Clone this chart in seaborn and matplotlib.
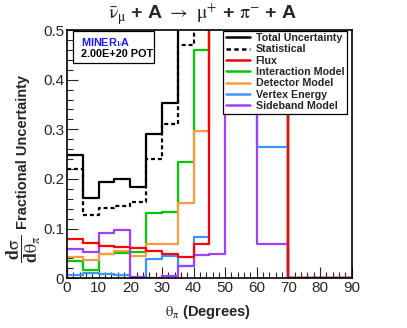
"""
Fractional uncertainty on d(sigma)/d(theta_pi), MINERvA style.
"""

import matplotlib

matplotlib.use("Agg")
import matplotlib.pyplot as plt
import pandas as pd
import seaborn as sns
from matplotlib.lines import Line2D
from matplotlib.patches import Rectangle
from matplotlib.ticker import MultipleLocator

# bin edges in theta_pi (degrees)
bin_edges = [0, 5, 10, 15, 20, 25, 30, 35, 40, 45, 50, 60, 70, 90]

# fractional uncertainty per bin (values above 0.5 run off the plot)
total_unc = [0.249, 0.161, 0.194, 0.200, 0.183, 0.290, 0.353, 0.80, 1.10, 1.40, 1.60, 1.30, 0.0]
stat_unc = [0.220, 0.128, 0.142, 0.146, 0.154, 0.240, 0.311, 0.470, 0.70, 0.90, 1.10, 0.90, 0.0]
flux_unc = [0.079, 0.071, 0.065, 0.063, 0.062, 0.054, 0.049, 0.042, 0.070, 0.90, 1.00, 0.80, 0.0]
interaction_unc = [0.034, 0.017, 0.048, 0.050, 0.052, 0.131, 0.134, 0.234, 0.459, 0.80, 0.90, 0.70, 0.0]
detector_unc = [0.043, 0.037, 0.048, 0.054, 0.045, 0.070, 0.070, 0.151, 0.296, 0.70, 0.80, 0.60, 0.0]
vertex_unc = [0.007, 0.011, 0.009, 0.007, 0.001, 0.038, 0.044, 0.024, 0.083, 0.60, 0.70, 0.264, 0.0]
sideband_unc = [0.060, 0.052, 0.091, 0.097, 0.002, 0.001, 0.005, 0.024, 0.047, 0.049, 0.60, 0.069, 0.0]

legend_labels = [
    "Total Uncertainty",
    "Statistical",
    "Flux",
    "Interaction Model",
    "Detector Model",
    "Vertex Energy",
    "Sideband Model",
]

COLORS = {
    "Total Uncertainty": "black",
    "Statistical": "black",
    "Flux": "#ff0000",
    "Interaction Model": "#00c800",
    "Detector Model": "#ff9a40",
    "Vertex Energy": "#3a96ff",
    "Sideband Model": "#a040ff",
}

DOTTED = (0, (1.8, 1.3))


def draw_hist(ax, values, label, ls="-"):
    # step outline: one point per lower edge, last value repeated at the end
    df = pd.DataFrame({"theta": bin_edges, "unc": list(values) + [values[-1]]})
    sns.lineplot(
        data=df,
        x="theta",
        y="unc",
        estimator=None,
        sort=False,
        drawstyle="steps-post",
        color=COLORS[label],
        linewidth=1.6,
        linestyle=ls,
        ax=ax,
    )


def main():
    sns.set_style("ticks")
    plt.rcParams["font.family"] = ["Liberation Sans", "DejaVu Sans"]
    plt.rcParams["mathtext.fontset"] = "stix"

    fig = plt.figure(figsize=(4.07, 3.28), dpi=100)
    ax = fig.add_axes([0.1646, 0.1515, 0.6995, 0.757])

    draw_hist(ax, total_unc, "Total Uncertainty")
    draw_hist(ax, stat_unc, "Statistical", ls=DOTTED)
    draw_hist(ax, interaction_unc, "Interaction Model")
    draw_hist(ax, detector_unc, "Detector Model")
    draw_hist(ax, vertex_unc, "Vertex Energy")
    draw_hist(ax, sideband_unc, "Sideband Model")
    draw_hist(ax, flux_unc, "Flux")

    ax.set_xlim(0, 90)
    ax.set_ylim(0, 0.5)
    ax.set_xlabel("")
    ax.set_ylabel("")

    ax.xaxis.set_major_locator(MultipleLocator(10))
    ax.xaxis.set_minor_locator(MultipleLocator(2))
    ax.yaxis.set_minor_locator(MultipleLocator(0.02))
    ax.set_yticks([0, 0.1, 0.2, 0.3, 0.4, 0.5])
    ax.set_yticklabels(["0", "0.1", "0.2", "0.3", "0.4", "0.5"])
    ax.tick_params(which="both", direction="in", top=False, right=False,
                   labelsize=11, width=0.8, pad=2)
    ax.tick_params(which="major", length=8)
    ax.tick_params(which="minor", length=4)
    for sp in ax.spines.values():
        sp.set_visible(True)
        sp.set_linewidth(1.2)
        sp.set_color("black")

    # legend
    handles = []
    for lab in legend_labels:
        ls = DOTTED if lab == "Statistical" else "-"
        handles.append(Line2D([], [], color=COLORS[lab], lw=1.8, linestyle=ls))
    leg = fig.legend(
        handles,
        legend_labels,
        loc="upper left",
        bbox_to_anchor=(223 / 407, 1 - 30.5 / 328),
        frameon=True,
        fancybox=False,
        framealpha=1,
        edgecolor="black",
        prop={"weight": "bold", "size": 7.7},
        handlelength=2.3,
        handletextpad=0.5,
        labelspacing=0.12,
        borderpad=0.25,
        borderaxespad=0,
    )
    leg.get_frame().set_linewidth(0.9)

    # experiment box
    fig.patches.append(Rectangle((73 / 407, 1 - 63 / 328), 81 / 407, 32 / 328,
                                 transform=fig.transFigure, fill=True,
                                 facecolor="white", edgecolor="black", lw=0.9,
                                 zorder=5))
    fig.text(81 / 407, 1 - 42 / 328, r"MINER$\mathrm{\nu}$A", color="#1a1aff",
             fontsize=7.8, fontweight="bold", va="center", ha="left", zorder=6)
    fig.text(81 / 407, 1 - 54 / 328, "2.00E+20 POT", color="black",
             fontsize=7.8, fontweight="bold", va="center", ha="left", zorder=6)

    fig.text(0.497, 1 - 14 / 328,
             r"$\bar{\mathrm{\nu}}_{\mathrm{\mu}}$ + A $\rightarrow$ "
             r"$\mathrm{\mu}^{+}$ + $\mathrm{\pi}^{-}$ + A",
             ha="center", va="center", fontsize=14, fontweight="bold")
    fig.text(208 / 407, 1 - 312 / 328, r"$\mathrm{\theta}_{\mathrm{\pi}}$ (Degrees)",
             ha="center", va="center", fontsize=10.5, fontweight="bold")

    # y title: derivative fraction, then the words
    fig.text(24 / 407, 1 - 249 / 328,
             r"$\mathbf{\dfrac{d\mathrm{\sigma}}{d\mathrm{\theta}_{\mathrm{\pi}}}}$",
             ha="center", va="center", rotation=90, fontsize=13)
    fig.text(23 / 407, 1 - 152 / 328, "Fractional Uncertainty",
             ha="center", va="center", rotation=90, fontsize=10.5,
             fontweight="bold")

    fig.savefig("out.png", dpi=100)
    plt.close(fig)


if __name__ == "__main__":
    main()
